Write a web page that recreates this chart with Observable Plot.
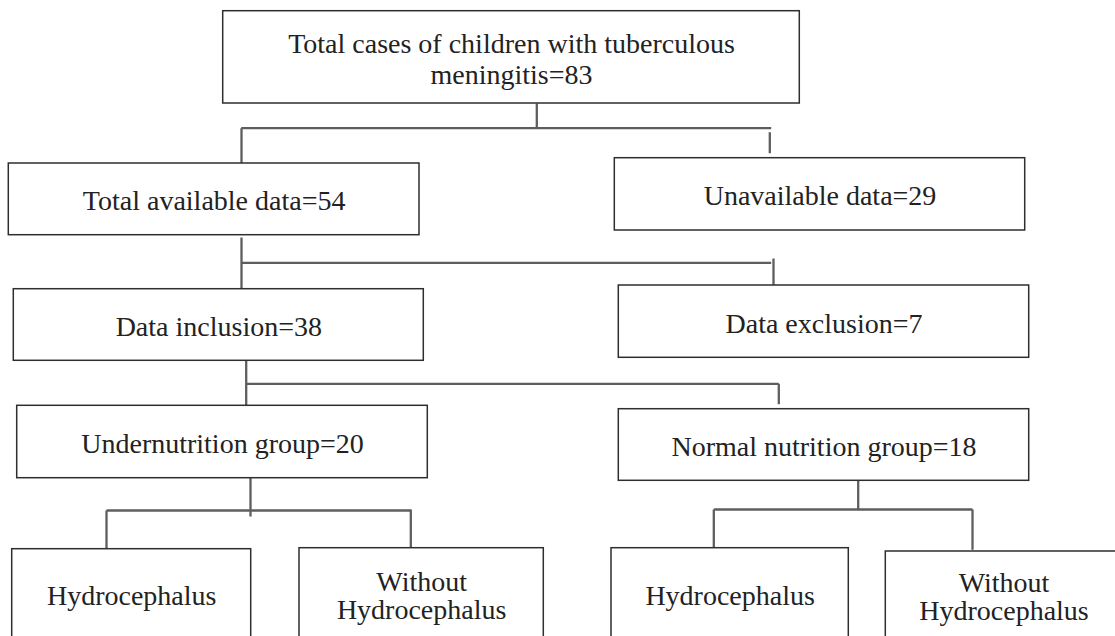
<!DOCTYPE html>
<html>
<head>
<meta charset="utf-8">
<script src="https://cdn.jsdelivr.net/npm/d3@7"></script>
<script src="https://cdn.jsdelivr.net/npm/@observablehq/plot@0.6"></script>
<style>
  html, body { margin: 0; padding: 0; background: #fff; overflow: hidden; }
  svg { overflow: hidden; }
</style>
</head>
<body>
<div id="chart"></div>
<script>
// Flowchart nodes
const labels = [
  "Total cases of children with tuberculous\nmeningitis=83",
  "Total available data=54",
  "Unavailable data=29",
  "Data inclusion=38",
  "Data exclusion=7",
  "Undernutrition group=20",
  "Normal nutrition group=18",
  "Hydrocephalus",
  "Without\nHydrocephalus",
  "Hydrocephalus",
  "Without\nHydrocephalus"
];
const level = [0, 1, 1, 2, 2, 3, 3, 4, 4, 4, 4];
const boxLeft   = [222.7,   8.3, 614.3,  13.3, 618.3,  16.7, 618.3,  11.7, 299.0, 611.0,  885.3];
const boxRight  = [799.3, 419.0, 1024.7, 423.3, 1028.7, 427.3, 1028.7, 250.7, 543.3, 848.3, 1121.7];
const boxTop    = [ 10.7, 163.0, 157.7, 288.7, 285.0, 405.3, 408.7, 548.7, 547.7, 547.7, 551.0];
const boxBottom = [103.0, 234.7, 230.0, 360.3, 357.3, 477.7, 480.3, 644.0, 644.0, 644.0, 644.0];

// Connector segments
const linkX1 = [536.3, 240.7, 241.0, 769.3, 241.0, 241.0, 773.0, 245.7, 245.7, 778.3, 250.0, 106.0, 106.0, 410.3, 857.7, 713.3, 713.3, 972.0];
const linkY1 = [103.0, 127.7, 127.7, 131.7, 237.0, 262.3, 258.0, 356.0, 383.3, 383.3, 476.0, 510.0, 510.0, 509.0, 479.0, 509.0, 509.0, 509.0];
const linkX2 = [536.3, 770.7, 241.0, 769.3, 241.0, 770.7, 773.0, 245.7, 778.3, 778.3, 250.0, 410.3, 106.0, 410.3, 857.7, 972.0, 713.3, 972.0];
const linkY2 = [127.7, 127.7, 163.0, 152.7, 289.0, 262.3, 286.0, 406.0, 383.3, 403.7, 516.0, 510.0, 548.0, 548.0, 509.0, 509.0, 549.0, 549.3];

const nodes = labels.map((label, i) => ({
  label, level: level[i],
  x1: boxLeft[i], x2: boxRight[i], y1: boxTop[i], y2: boxBottom[i],
  cx: (boxLeft[i] + boxRight[i]) / 2,
  cy: (boxTop[i] + boxBottom[i]) / 2
}));
const links = linkX1.map((x, i) => ({x1: x, y1: linkY1[i], x2: linkX2[i], y2: linkY2[i]}));

const W = 1115, H = 636;
const chart = Plot.plot({
  width: W,
  height: H,
  margin: 0,
  x: {domain: [0, W], range: [0, W], axis: null},
  y: {domain: [0, H], range: [0, H], axis: null},
  style: {background: "#fff", fontFamily: "'Liberation Serif', serif"},
  marks: [
    Plot.link(links, {x1: "x1", y1: "y1", x2: "x2", y2: "y2", stroke: "#5e5e5e", strokeWidth: 2.3}),
    Plot.rect(nodes, {x1: "x1", x2: "x2", y1: "y1", y2: "y2", fill: "white", stroke: "#2e2e2e", strokeWidth: 1.5}),
    Plot.text(nodes.filter(d => d.level < 4), {
      x: "cx", y: "cy", text: "label", fontSize: 28, lineHeight: 1.1,
      fill: "#222", fontFamily: "'Liberation Serif', serif", dy: 1
    }),
    Plot.text(nodes.filter(d => d.level === 4), {
      x: "cx", y: "cy", text: "label", fontSize: 28, lineHeight: 1.0,
      fill: "#222", fontFamily: "'Liberation Serif', serif", dy: -0.5
    })
  ]
});
document.getElementById("chart").appendChild(chart);
</script>
</body>
</html>
